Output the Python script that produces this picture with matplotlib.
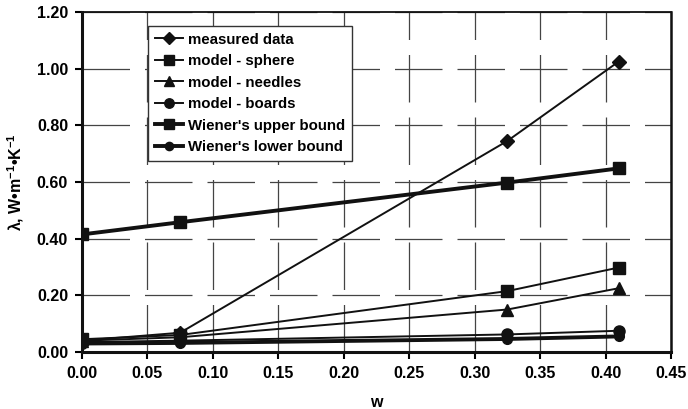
import matplotlib
matplotlib.use("Agg")
import matplotlib.pyplot as plt

plt.rcParams['font.family'] = ['Liberation Sans', 'DejaVu Sans']
plt.rcParams['font.weight'] = 'bold'
plt.rcParams['mathtext.fontset'] = 'custom'
plt.rcParams['mathtext.rm'] = 'Liberation Sans:bold'
plt.rcParams['mathtext.bf'] = 'Liberation Sans:bold'
plt.rcParams['mathtext.default'] = 'bf'

w = [0.0, 0.075, 0.325, 0.41]
measured = [0.040, 0.068, 0.745, 1.025]
sphere = [0.045, 0.060, 0.215, 0.298]
needles = [0.040, 0.052, 0.150, 0.225]
boards = [0.035, 0.040, 0.062, 0.075]
upper = [0.415, 0.458, 0.598, 0.648]
lower = [0.030, 0.032, 0.046, 0.055]

labels = ["measured data", "model - sphere", "model - needles", "model - boards",
          "Wiener's upper bound", "Wiener's lower bound"]
xticks = [0.00, 0.05, 0.10, 0.15, 0.20, 0.25, 0.30, 0.35, 0.40, 0.45]
yticks = [0.00, 0.20, 0.40, 0.60, 0.80, 1.00, 1.20]

fig = plt.figure(figsize=(6.88, 4.09), dpi=100)
L, R, T, B = 82, 671, 12, 352
ax = fig.add_axes([L/688, 1 - B/409, (R-L)/688, (B-T)/409])

c = '#111111'
ax.plot(w, measured, color=c, lw=1.4, marker='D', ms=7, label=labels[0], zorder=5)
ax.plot(w, sphere, color=c, lw=1.4, marker='s', ms=8, label=labels[1], zorder=5)
ax.plot(w, needles, color=c, lw=1.4, marker='^', ms=8, label=labels[2], zorder=5)
ax.plot(w, boards, color=c, lw=1.4, marker='o', ms=8, label=labels[3], zorder=5)
ax.plot(w, upper, color=c, lw=2.8, marker='s', ms=9, label=labels[4], zorder=5)
ax.plot(w, lower, color=c, lw=2.8, marker='o', ms=7, label=labels[5], zorder=5)

ax.set_xlim(0, 0.45)
ax.set_ylim(0, 1.2)
ax.set_xticks(xticks)
ax.set_yticks(yticks)
ax.set_xticklabels([f"{v:.2f}" for v in xticks])
ax.set_yticklabels([f"{v:.2f}" for v in yticks])
ax.tick_params(axis='both', labelsize=11.5, length=5, width=1.5, direction='out', pad=5)
for lab in ax.get_xticklabels() + ax.get_yticklabels():
    lab.set_fontweight('bold')

ax.grid(True, color='#444444', lw=0.9, linestyle=(0, (38, 12)))
ax.set_axisbelow(True)

ax.spines['left'].set_linewidth(2.2)
ax.spines['bottom'].set_linewidth(2.2)
ax.spines['right'].set_linewidth(1.8)
ax.spines['top'].set_linewidth(1.3)
for s in ax.spines.values():
    s.set_color('#111111')

ax.set_xlabel('w', fontsize=11.5, fontweight='bold', labelpad=10)
ax.set_ylabel(r'λ, W•m$^{-1}$•K$^{-1}$', fontsize=11.5, fontweight='bold', labelpad=8)

leg = ax.legend(loc='upper left', bbox_to_anchor=((148-L)/(R-L), 1 - (26-T)/(B-T)), fontsize=10.8,
                frameon=True, fancybox=False, handlelength=1.9, handletextpad=0.3,
                labelspacing=0.5, borderpad=0.45, borderaxespad=0, markerscale=0.85)
leg.get_frame().set_edgecolor('#333333')
leg.get_frame().set_linewidth(1.0)
leg.get_frame().set_alpha(1)
for t in leg.get_texts():
    t.set_fontweight('bold')

fig.savefig('out.png', dpi=100)
